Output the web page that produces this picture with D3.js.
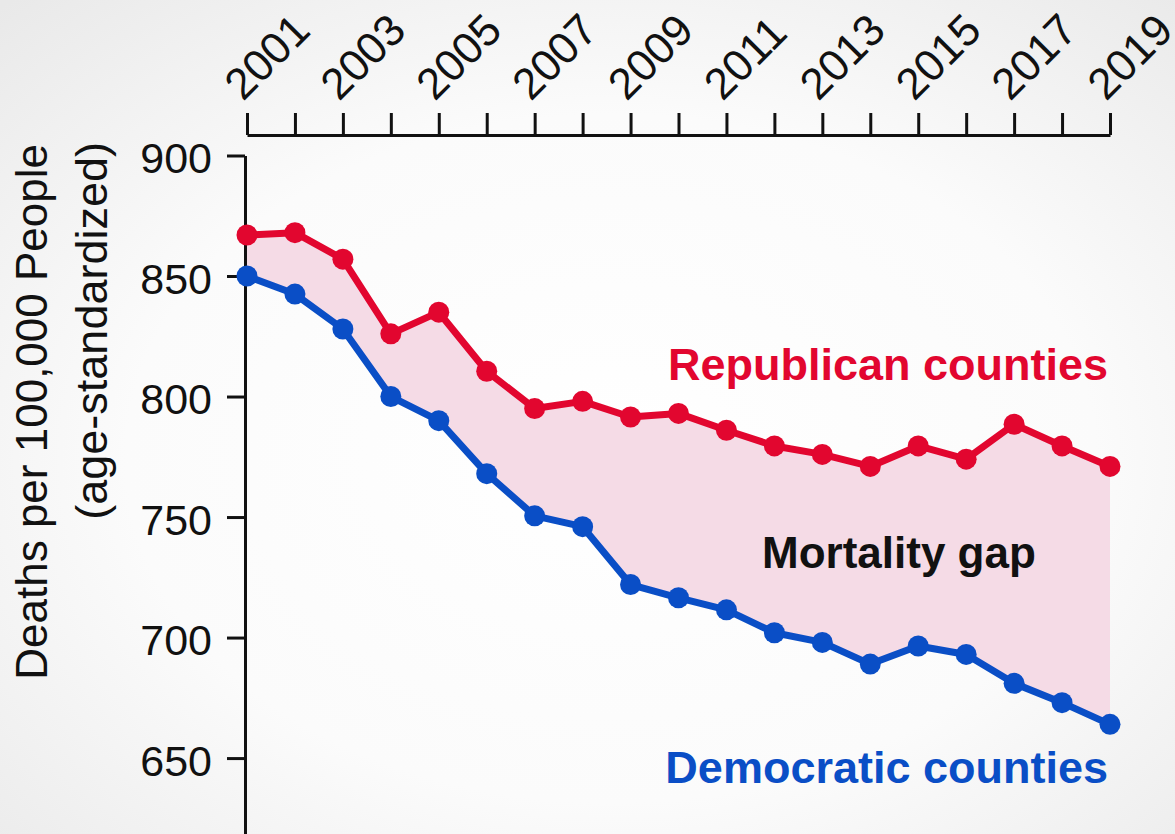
<!DOCTYPE html>
<html>
<head>
<meta charset="utf-8">
<script src="https://cdn.jsdelivr.net/npm/d3@7"></script>
<style>
  html, body { margin: 0; padding: 0; background: #fff; }
  svg { display: block; }
  text { font-family: "Liberation Sans", Arial, Helvetica, sans-serif; }
</style>
</head>
<body>
<svg id="chart" width="1175" height="834"></svg>
<script>
const years = [2001,2002,2003,2004,2005,2006,2007,2008,2009,2010,2011,2012,2013,2014,2015,2016,2017,2018,2019];
const republican = [867,868,857,826,835,810.5,795,798,791.5,793,786,779.5,776,771,779.5,774,788.5,779.5,771];
const democratic = [850,842.5,828,800,790,768,750.5,746,722,716.5,711.5,702,698,689,696.5,693,681,673,664];
const yTicks = [650,700,750,800,850,900];
const xLabelYears = [2001,2003,2005,2007,2009,2011,2013,2015,2017,2019];
const seriesLabels = ["Republican counties","Democratic counties"];
const gapLabel = "Mortality gap";
const yTitle = ["Deaths per 100,000 People","(age-standardized)"];

const W = 1175, H = 834;
const svg = d3.select("#chart");
const defs = svg.append("defs");
const bg = defs.append("radialGradient").attr("id","bg")
  .attr("cx","0.52").attr("cy","0.55").attr("r","0.75");
bg.append("stop").attr("offset","0%").attr("stop-color","#ffffff");
bg.append("stop").attr("offset","55%").attr("stop-color","#fbfbfb");
bg.append("stop").attr("offset","100%").attr("stop-color","#e9e9e9");
svg.append("rect").attr("width",W).attr("height",H).attr("fill","url(#bg)");

const x = d3.scaleLinear().domain([2001,2019]).range([247,1110]);
const y = d3.scaleLinear().domain([618.5,900]).range([834,155.5]);

const red = "#e2062f", blue = "#0a4ec6";
const data = years.map((yr,i)=>({yr, r:republican[i], d:democratic[i]}));

// gap area
svg.append("path").datum(data)
  .attr("fill","#f5dbe6")
  .attr("d", d3.area().x(d=>x(d.yr)).y0(d=>y(d.d)).y1(d=>y(d.r)));

// axes
const axisColor = "#111";
const yAxis = svg.append("g").attr("transform","translate(245,0)")
  .call(d3.axisLeft(y).tickValues(yTicks).tickSize(18).tickSizeOuter(0).tickPadding(15));
yAxis.select(".domain").attr("stroke",axisColor).attr("stroke-width",3);
yAxis.selectAll(".tick line").attr("stroke",axisColor).attr("stroke-width",3);
yAxis.selectAll(".tick text").attr("font-size",43).attr("fill","#111").attr("dy","0.4em")
  .style("font-family","'Liberation Sans', Arial, sans-serif");

const xAxis = svg.append("g").attr("transform","translate(0,135)")
  .call(d3.axisTop(x).tickValues(years).tickSize(22).tickSizeOuter(0).tickFormat(""));
xAxis.select(".domain").attr("stroke",axisColor).attr("stroke-width",3);
xAxis.selectAll(".tick line").attr("stroke",axisColor).attr("stroke-width",3);

svg.append("g").selectAll("text").data(xLabelYears).join("text")
  .attr("transform", d=>`translate(${x(d)-4},102) rotate(-45)`)
  .attr("font-size",44).attr("fill","#111")
  .text(d=>d);

// y title
const yt = svg.append("g");
yt.append("text").attr("transform","translate(47,144) rotate(-90)")
  .attr("text-anchor","end").attr("font-size",44).attr("fill","#111").text(yTitle[0]);
yt.append("text").attr("transform","translate(107,142) rotate(-90)")
  .attr("text-anchor","end").attr("font-size",45).attr("fill","#111").text(yTitle[1]);

// lines
const line = acc => d3.line().x(d=>x(d.yr)).y(d=>y(acc(d)));
svg.append("path").datum(data).attr("fill","none").attr("stroke",blue).attr("stroke-width",7)
  .attr("stroke-linejoin","round").attr("d", line(d=>d.d));
svg.append("path").datum(data).attr("fill","none").attr("stroke",red).attr("stroke-width",7)
  .attr("stroke-linejoin","round").attr("d", line(d=>d.r));
svg.append("g").selectAll("circle").data(data).join("circle")
  .attr("cx",d=>x(d.yr)).attr("cy",d=>y(d.d)).attr("r",10.5).attr("fill",blue);
svg.append("g").selectAll("circle").data(data).join("circle")
  .attr("cx",d=>x(d.yr)).attr("cy",d=>y(d.r)).attr("r",10.5).attr("fill",red);

// labels
svg.append("text").attr("x",1108).attr("y",380).attr("text-anchor","end")
  .attr("font-size",45).attr("font-weight","bold").attr("fill",red).text(seriesLabels[0]);
svg.append("text").attr("x",1108).attr("y",783).attr("text-anchor","end")
  .attr("font-size",45).attr("font-weight","bold").attr("fill",blue).text(seriesLabels[1]);
svg.append("text").attr("x",762).attr("y",568)
  .attr("font-size",44).attr("font-weight","bold").attr("fill","#111").text(gapLabel);
</script>
</body>
</html>
